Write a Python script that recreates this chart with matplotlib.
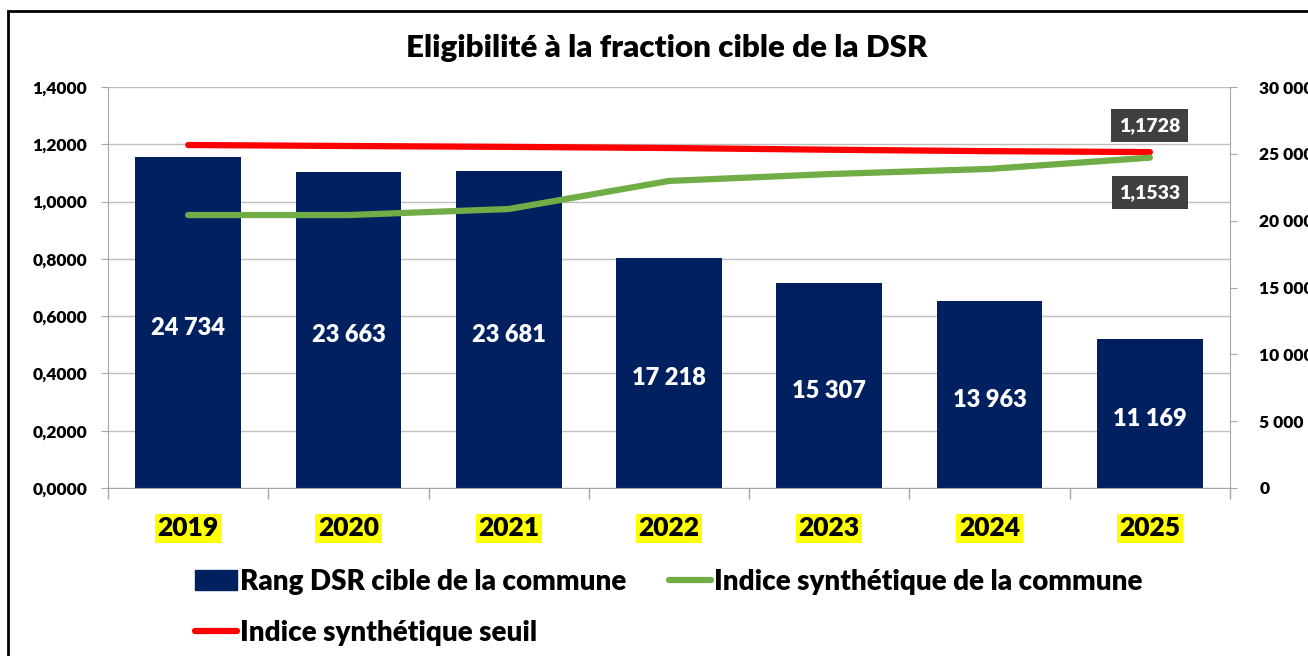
import matplotlib
matplotlib.use("Agg")
import matplotlib.pyplot as plt
from matplotlib.patches import Rectangle
from matplotlib.lines import Line2D
import numpy as np

years = ["2019", "2020", "2021", "2022", "2023", "2024", "2025"]
rang_dsr = [24734, 23663, 23681, 17218, 15307, 13963, 11169]
indice_commune = [0.953, 0.953, 0.974, 1.072, 1.096, 1.114, 1.1533]
indice_seuil = [1.1975, 1.194, 1.191, 1.187, 1.181, 1.176, 1.1728]
left_ticks = [0.0, 0.2, 0.4, 0.6, 0.8, 1.0, 1.2, 1.4]
right_ticks = [0, 5000, 10000, 15000, 20000, 25000, 30000]

FONT = ["Lato", "DejaVu Sans"]
plt.rcParams["font.family"] = FONT
plt.rcParams["font.weight"] = "heavy"
WT = "heavy"

W, H = 1308, 656
fig = plt.figure(figsize=(W / 100, H / 100), dpi=100)

# outer chart border (top + left visible, rest cut off)
fig.patches.append(Rectangle((8 / W, -0.1), 1.2, (H - 11) / H + 0.1, transform=fig.transFigure,
                             fill=False, edgecolor="black", linewidth=2))

ax = fig.add_axes([108 / W, 1 - 488 / H, (1230 - 108) / W, (488 - 87) / H])
ax2 = ax.twinx()
ax.set_zorder(ax2.get_zorder() + 1)
ax.patch.set_visible(False)

x = np.arange(len(years))
bar_color = "#002060"
ax2.bar(x, rang_dsr, width=0.66, color=bar_color, zorder=2)
for xi, v in zip(x, rang_dsr):
    ax2.annotate(f"{v:,}".replace(",", " "), (xi, v / 2), xytext=(0, -4), textcoords="offset points",
                 ha="center", va="center", color="white", fontsize=17, fontweight=WT)

ax2.set_ylim(0, 30000)
ax2.set_yticks(right_ticks)
ax2.set_yticklabels([f"{t:,}".replace(",", " ") for t in right_ticks], fontsize=12.5, fontweight=WT)

ax.plot(x, indice_seuil, color="#FF0000", linewidth=4.5, solid_capstyle="round", zorder=4)
ax.plot(x, indice_commune, color="#70AD47", linewidth=4.5, solid_capstyle="round", zorder=4)
ax.set_ylim(0, 1.4)
ax.set_xlim(-0.5, len(years) - 0.5)
ax.set_yticks(left_ticks)
ax.set_yticklabels([f"{t:.4f}".replace(".", ",") for t in left_ticks], fontsize=12.5, fontweight=WT)

# gridlines beneath bars
for t in left_ticks:
    ax2.axhline(t / 1.4 * 30000, color="#BFBFBF", linewidth=1, zorder=0)

ax.set_xticks(np.arange(-0.5, len(years), 1.0))
ax.set_xticklabels([])
ax.tick_params(axis="x", length=8, color="#A6A6A6", width=1)
ax.tick_params(axis="y", length=5, color="#A6A6A6", pad=10)
ax2.tick_params(axis="y", length=5, color="#A6A6A6", pad=16)
for a in (ax, ax2):
    a.spines["top"].set_visible(False)
    for sp in ["left", "right", "bottom"]:
        a.spines[sp].set_color("#A6A6A6")
ax2.spines["left"].set_visible(False)
ax.spines["right"].set_visible(False)
ax2.spines["bottom"].set_visible(False)

for xi, y in zip(x, years):
    ax.annotate(y, (xi, 0), xytext=(0, -29), textcoords="offset points", ha="center", va="center",
                fontsize=19, fontweight=WT,
                bbox=dict(boxstyle="square,pad=0.1", facecolor="#FFFF00", edgecolor="none"))

# end-point labels
ax.annotate(f"{indice_seuil[-1]:.4f}".replace(".", ","), (x[-1], indice_seuil[-1]), xytext=(0, 19),
            textcoords="offset points", ha="center", va="center", color="white", fontsize=14,
            fontweight=WT, bbox=dict(boxstyle="square,pad=0.4", facecolor="#404040", edgecolor="none"))
ax.annotate(f"{indice_commune[-1]:.4f}".replace(".", ","), (x[-1], indice_commune[-1]), xytext=(0, -25),
            textcoords="offset points", ha="center", va="center", color="white", fontsize=14,
            fontweight=WT, bbox=dict(boxstyle="square,pad=0.4", facecolor="#404040", edgecolor="none"))

fig.text(667 / W, 1 - 48 / H, "Eligibilité à la fraction cible de la DSR", ha="center", va="center",
         fontsize=22.5, fontweight=WT)

handles = [Rectangle((0, 0), 1, 1, color=bar_color),
           Line2D([], [], color="#FF0000", linewidth=4.5, solid_capstyle="round"),
           Line2D([], [], color="#70AD47", linewidth=4.5, solid_capstyle="round")]
labels = ["Rang DSR cible de la commune", "Indice synthétique seuil", "Indice synthétique de la commune"]
fig.legend(handles, labels, ncol=2, loc="upper left", bbox_to_anchor=(181 / W, 1 - 555 / H),
           frameon=False, prop={"size": 20, "weight": WT}, handlelength=1.5, handletextpad=0.12,
           columnspacing=1.55, labelspacing=0.9, borderpad=0)

fig.savefig("out.png", dpi=100)
